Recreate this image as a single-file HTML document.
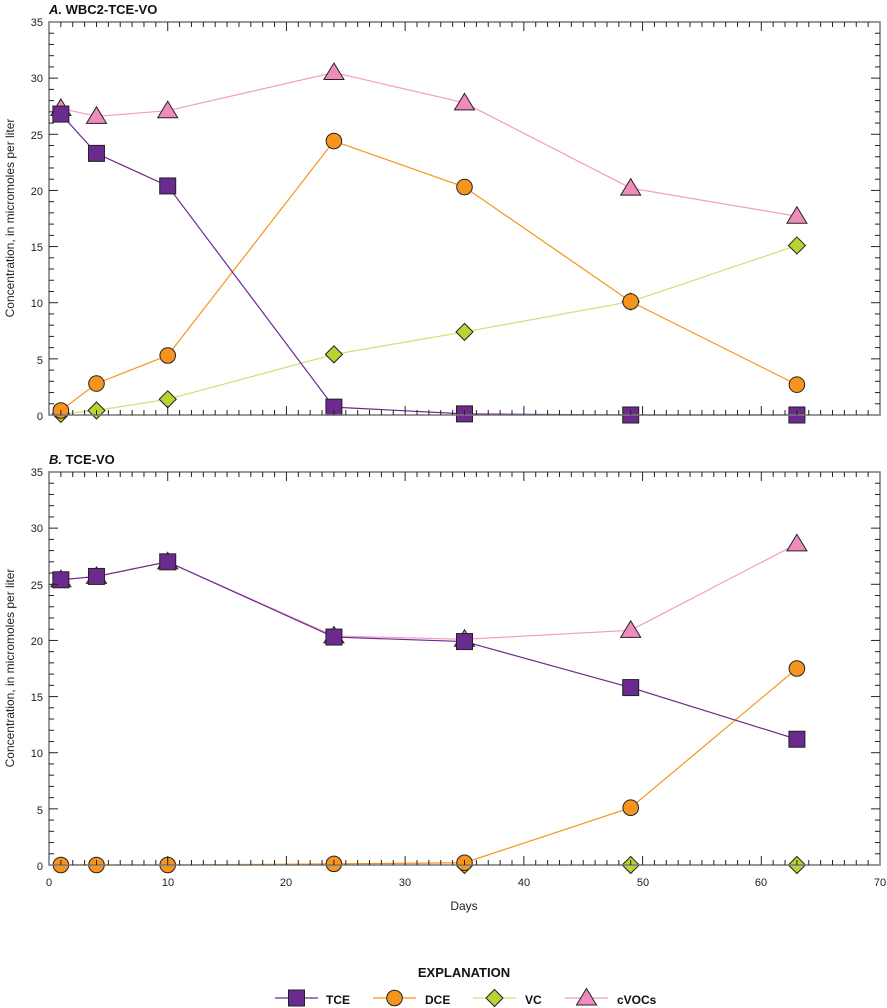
<!DOCTYPE html>
<html><head><meta charset="utf-8"><style>
body{margin:0;background:#fff}
svg{display:block;font-family:"Liberation Sans",sans-serif}
</style></head><body>
<svg id="s" width="887" height="1008" xmlns="http://www.w3.org/2000/svg">
<g font-size="11" fill="#222" text-anchor="end">
<text x="43" y="26">35</text><text x="43" y="82">30</text><text x="43" y="195">20</text><text x="43" y="139">25</text><text x="43" y="251">15</text><text x="43" y="307">10</text><text x="43" y="364">5</text><text x="43" y="420">0</text>
<text x="43" y="476">35</text><text x="43" y="532">30</text><text x="43" y="589">25</text><text x="43" y="645">20</text><text x="43" y="701">15</text><text x="43" y="757">10</text><text x="43" y="814">5</text><text x="43" y="870">0</text>
</g>
<g font-size="11" fill="#222" text-anchor="middle">
<text x="49" y="886">0</text><text x="168" y="886">10</text><text x="286" y="886">20</text><text x="405" y="886">30</text><text x="524" y="886">40</text><text x="643" y="886">50</text><text x="761" y="886">60</text><text x="880" y="886">70</text>
<text x="464" y="910" font-size="12">Days</text>
</g>
<text x="14" y="218" font-size="12" fill="#222" text-anchor="middle" transform="rotate(-90 14 218)">Concentration, in micromoles per liter</text>
<text x="14" y="668" font-size="12" fill="#222" text-anchor="middle" transform="rotate(-90 14 668)">Concentration, in micromoles per liter</text>
<text x="49" y="14" font-size="13" font-weight="bold" fill="#111"><tspan font-style="italic">A.</tspan> WBC2-TCE-VO</text>
<text x="49" y="464" font-size="13" font-weight="bold" fill="#111"><tspan font-style="italic">B.</tspan> TCE-VO</text>
<text x="464" y="977" font-size="13" font-weight="bold" fill="#111" text-anchor="middle">EXPLANATION</text>
<g font-size="12" font-weight="bold" fill="#111">
<text x="326" y="1004">TCE</text><text x="425" y="1004">DCE</text><text x="525" y="1004">VC</text><text x="617" y="1004">cVOCs</text>
</g>
<g id="g"></g>
</svg>
<script>
const NS="http://www.w3.org/2000/svg",g=document.getElementById('g');
function el(t,a){const e=document.createElementNS(NS,t);for(const k in a)e.setAttribute(k,a[k]);g.appendChild(e);return e;}
const X0=49,X1=880,sx=(X1-X0)/70;
const C={TCE:['#6b2a8e','#6b2a8e'],DCE:['#f7941d','#f7941d'],VC:['#b7d433','#cfe07a'],cV:['#f08cbc','#f49ac6']};
function marker(type,x,y){
 const f=C[type][0],st={fill:f,stroke:'#222','stroke-width':1};
 if(type=='TCE')el('rect',Object.assign({x:x-8,y:y-8,width:16,height:16},st));
 if(type=='DCE')el('circle',Object.assign({cx:x,cy:y,r:7.8},st));
 if(type=='VC')el('polygon',Object.assign({points:`${x},${y-8.5} ${x+8.5},${y} ${x},${y+8.5} ${x-8.5},${y}`},st));
 if(type=='cV')el('polygon',Object.assign({points:`${x},${y-9.5} ${x+10},${y+7} ${x-10},${y+7}`},st));
}
function panel(top,bot,data){
 const sy=(bot-top)/35,px=d=>X0+d*sx,py=v=>bot-v*sy;
 for(const k of ['cV','VC','DCE','TCE']){const d=data[k];
  el('polyline',{points:d.map(p=>px(p[0])+','+py(p[1])).join(' '),fill:'none',stroke:C[k][1],'stroke-width':1.2});}
 for(const k of ['cV','VC','DCE','TCE'])for(const p of data[k])marker(k,px(p[0]),py(p[1]));
 el('rect',{x:X0,y:top,width:X1-X0,height:bot-top,fill:'none',stroke:'#777','stroke-width':1.5});
 for(let i=1;i<70;i++){const L=i%10==0?9:5;el('line',{x1:px(i),x2:px(i),y1:bot,y2:bot-L,stroke:'#222'});el('line',{x1:px(i),x2:px(i),y1:top,y2:top+L,stroke:'#222'});}
 for(let i=1;i<35;i++){const L=i%5==0?9:5;el('line',{x1:X0,x2:X0+L,y1:py(i),y2:py(i),stroke:'#222'});el('line',{x1:X1,x2:X1-L,y1:py(i),y2:py(i),stroke:'#222'});}
}
panel(22,415,{
 TCE:[[1,26.8],[4,23.3],[10,20.4],[24,0.7],[35,0.1],[49,0],[63,0]],
 DCE:[[1,0.4],[4,2.8],[10,5.3],[24,24.4],[35,20.3],[49,10.1],[63,2.7]],
 VC:[[1,0.1],[4,0.4],[10,1.4],[24,5.4],[35,7.4],[49,10.1],[63,15.1]],
 cV:[[1,27.3],[4,26.6],[10,27.1],[24,30.5],[35,27.8],[49,20.2],[63,17.7]]});
panel(472,865,{
 TCE:[[1,25.4],[4,25.7],[10,27],[24,20.3],[35,19.9],[49,15.8],[63,11.2]],
 DCE:[[1,0],[4,0],[10,0],[24,0.1],[35,0.2],[49,5.1],[63,17.5]],
 VC:[[35,0],[49,0],[63,0]],
 cV:[[1,25.4],[4,25.7],[10,27],[24,20.4],[35,20.1],[49,20.9],[63,28.6]]});
const ly=998;
[['TCE',275,318],['DCE',373,416],['VC',473,516],['cV',565,608]].forEach(([k,a,b])=>{
 el('line',{x1:a,x2:b,y1:ly,y2:ly,stroke:C[k][1],'stroke-width':1.2});marker(k,(a+b)/2,ly);});
</script>
</body></html>
